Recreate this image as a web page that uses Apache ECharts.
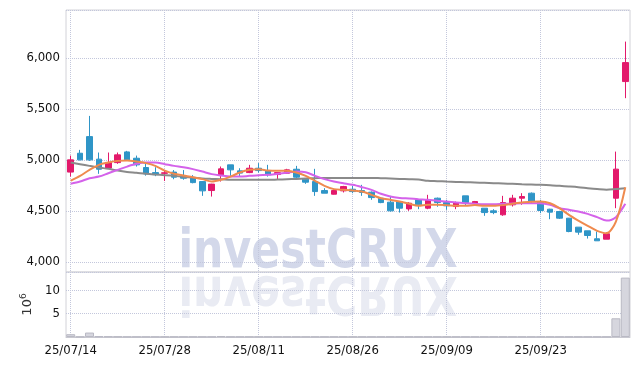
<!DOCTYPE html>
<html><head><meta charset="utf-8">
<script src="https://cdn.jsdelivr.net/npm/echarts@6/dist/echarts.min.js"></script>
<style>html,body{margin:0;padding:0;background:#fff}#c{width:639px;height:366px}</style>
</head><body><div id="c"></div>
<script>
const dates = ['25/07/14','25/07/15','25/07/16','25/07/17','25/07/18','25/07/21','25/07/22','25/07/23','25/07/24','25/07/25',
'25/07/28','25/07/29','25/07/30','25/07/31','25/08/01','25/08/04','25/08/05','25/08/06','25/08/07','25/08/08',
'25/08/11','25/08/12','25/08/13','25/08/14','25/08/18','25/08/19','25/08/20','25/08/21','25/08/22','25/08/25',
'25/08/26','25/08/27','25/08/28','25/08/29','25/09/01','25/09/02','25/09/03','25/09/04','25/09/05','25/09/08',
'25/09/09','25/09/10','25/09/11','25/09/12','25/09/15','25/09/16','25/09/17','25/09/18','25/09/19','25/09/22',
'25/09/23','25/09/24','25/09/25','25/09/26','25/09/29','25/09/30','25/10/01','25/10/02','25/10/10','25/10/13'];
const opens  = [4880,5065,5228,5007,4921,4973,5078,5016,4925,4875, 4868,4880,4836,4826,4787,4699,4853,4951,4892,4875,
                4918,4895,4856,4869,4908,4811,4787,4699,4663,4696, 4712,4699,4683,4624,4585,4591,4519,4608,4526,4624,
                4581,4542,4647,4575,4526,4500,4461,4559,4624,4673, 4591,4516,4493,4428,4340,4304,4226,4222,4624,5768];
const closes = [5000,5000,5000,4908,4973,5049,5000,4951,4862,4855, 4873,4830,4820,4777,4696,4762,4912,4902,4870,4918,
                4895,4853,4875,4902,4830,4781,4689,4673,4699,4738, 4689,4680,4630,4581,4500,4526,4575,4559,4608,4581,
                4549,4581,4581,4591,4483,4483,4581,4624,4640,4591, 4503,4487,4428,4297,4291,4258,4206,4275,4909,5954];
const lows   = [4836,4995,4990,4863,4918,4961,4995,4934,4845,4840, 4793,4810,4805,4770,4647,4640,4787,4843,4836,4870,
                4875,4836,4811,4862,4804,4765,4647,4673,4660,4680, 4673,4647,4608,4575,4493,4483,4500,4516,4516,4540,
                4510,4516,4555,4569,4451,4467,4451,4542,4559,4575, 4477,4418,4420,4290,4265,4228,4206,4222,4526,5605];
const highs  = [5042,5098,5431,5072,5072,5072,5088,5042,4960,4928, 4900,4900,4900,4850,4790,4765,4935,4951,4918,4951,
                4968,4951,4880,4912,4941,4820,4912,4722,4710,4745, 4745,4755,4690,4630,4647,4591,4585,4610,4657,4630,
                4608,4591,4647,4597,4526,4516,4647,4657,4673,4680, 4608,4520,4500,4430,4340,4304,4297,4290,5081,6160];
const ma5    = [4797,4843,4902,4951,4974,4990,4993,4983,4968,4941, 4895,4863,4846,4830,4811,4787,4804,4836,4876,4902,
                4909,4895,4892,4892,4876,4843,4794,4745,4713,4706, 4699,4689,4657,4624,4608,4591,4569,4549,4559,4559,
                4556,4549,4549,4556,4549,4549,4556,4569,4582,4588, 4591,4575,4526,4461,4405,4353,4304,4281,4395,4732];
const ma20   = [4765,4787,4820,4836,4869,4902,4934,4961,4974,4974, 4958,4941,4928,4909,4885,4860,4846,4836,4836,4843,
                4850,4853,4863,4873,4885,4879,4843,4811,4787,4771, 4755,4732,4706,4667,4640,4627,4621,4614,4608,4598,
                4591,4582,4575,4569,4565,4565,4569,4572,4575,4575, 4575,4559,4526,4510,4493,4470,4438,4405,4438,4569];
const ma60   = [4974,4958,4941,4925,4912,4895,4882,4873,4863,4856, 4850,4843,4833,4826,4817,4813,4810,4804,4804,4804,
                4804,4804,4807,4810,4813,4817,4820,4823,4823,4823, 4823,4823,4823,4820,4817,4813,4810,4807,4794,4791,
                4787,4784,4781,4778,4775,4771,4768,4765,4761,4758, 4755,4751,4745,4739,4732,4722,4713,4706,4713,4722];
const volumes = [0.6,0.05,0.95,0.15,0.12,0.1,0.05,0.05,0.05,0.05, 0.05,0.05,0.05,0.05,0.05,0.05,0.2,0.05,0.05,0.05,
                 0.05,0.05,0.05,0.05,0.05,0.05,0.05,0.05,0.05,0.05, 0.05,0.05,0.05,0.05,0.05,0.05,0.05,0.05,0.05,0.05,
                 0.05,0.05,0.05,0.05,0.05,0.05,0.05,0.05,0.05,0.05, 0.05,0.05,0.05,0.05,0.05,0.05,0.05,0.05,4.0,12.7];

const candles = dates.map((d, i) => [opens[i], closes[i], lows[i], highs[i]]);
const FONT = "'DejaVu Sans Condensed','DejaVu Sans',sans-serif";
const gridSplit = {show: true, interval: 9, alignWithLabel: true, lineStyle: {color: '#c3c7dc', type: 'dotted', width: 1}};
const ySplit = {show: true, lineStyle: {color: '#c3c7dc', type: 'dotted', width: 1}};
const WM = "bold 54px 'DejaVu Sans', sans-serif";

const chart = echarts.init(document.getElementById('c'), null, {renderer: 'canvas'});
chart.setOption({
  animation: false,
  backgroundColor: '#ffffff',
  graphic: [
    {type: 'text', z: -10, silent: true,
     style: {text: 'investCRUX', x: 318, y: 253, align: 'center', verticalAlign: 'middle', font: WM, fill: '#d3d8ea'},
     scaleX: 0.79, originX: 318},
    {type: 'text', z: -10, silent: true,
     style: {text: 'investCRUX', x: 318, y: 253, align: 'center', verticalAlign: 'middle', font: WM, fill: '#e9ebf3'},
     scaleX: 0.79, scaleY: -1, originX: 318, originY: 272}
  ],
  grid: [
    {left: 66, right: 9, top: 10, height: 262, show: true, borderColor: '#d2d2d8', borderWidth: 1},
    {left: 66, right: 9, top: 272, height: 65, show: true, borderColor: '#d2d2d8', borderWidth: 1}
  ],
  xAxis: [
    {type: 'category', gridIndex: 0, data: dates, boundaryGap: true,
     axisLine: {show: false}, axisTick: {show: false}, axisLabel: {show: false},
     splitLine: gridSplit},
    {type: 'category', gridIndex: 1, data: dates, boundaryGap: true,
     axisLine: {show: true, lineStyle: {color: '#c8c8d0'}}, axisTick: {show: false},
     axisLabel: {interval: 9, color: '#111', fontFamily: FONT, fontSize: 13, margin: 7},
     splitLine: gridSplit}
  ],
  yAxis: [
    {type: 'value', gridIndex: 0, min: 3900, max: 6470, splitNumber: 5, scale: true,
     axisLine: {show: false}, axisTick: {show: false},
     axisLabel: {showMinLabel: false, showMaxLabel: false, color: '#111', fontFamily: FONT, fontSize: 13, margin: 6,
                 formatter: v => v.toLocaleString('en-US')},
     splitLine: ySplit},
    {type: 'value', gridIndex: 1, min: 0, max: 13.9, splitNumber: 3,
     axisLine: {show: false}, axisTick: {show: false},
     axisLabel: {showMinLabel: false, showMaxLabel: false, color: '#111', fontFamily: FONT, fontSize: 13, margin: 6},
     splitLine: ySplit,
     name: '{b|10}{s|6}', nameLocation: 'middle', nameRotate: 90, nameGap: 23,
     nameTextStyle: {rich: {b: {fontSize: 13, color: '#333', fontFamily: 'DejaVu Sans'},
                            s: {fontSize: 9, color: '#333', fontFamily: 'DejaVu Sans', verticalAlign: 'top', padding: [0,0,8,0]}}}}
  ],
  series: [
    {type: 'bar', xAxisIndex: 1, yAxisIndex: 1, data: volumes, barWidth: '96%',
     itemStyle: {color: '#d6d6de', borderColor: '#b9b9c4', borderWidth: 1}},
    {type: 'candlestick', xAxisIndex: 0, yAxisIndex: 0, data: candles, barWidth: '66%', z: 3,
     itemStyle: {color: '#e3196b', color0: '#2f95c7', borderColor: '#e3196b', borderColor0: '#2f95c7', borderWidth: 1}},
    {type: 'line', xAxisIndex: 0, yAxisIndex: 0, data: ma60, symbol: 'none', smooth: 0.3, z: 4,
     lineStyle: {color: '#8a8a8a', width: 2}},
    {type: 'line', xAxisIndex: 0, yAxisIndex: 0, data: ma20, symbol: 'none', smooth: 0.3, z: 4,
     lineStyle: {color: '#d462ea', width: 2}},
    {type: 'line', xAxisIndex: 0, yAxisIndex: 0, data: ma5, symbol: 'none', smooth: 0.3, z: 4,
     lineStyle: {color: '#ef8a4e', width: 2}}
  ]
});
</script>
</body></html>
